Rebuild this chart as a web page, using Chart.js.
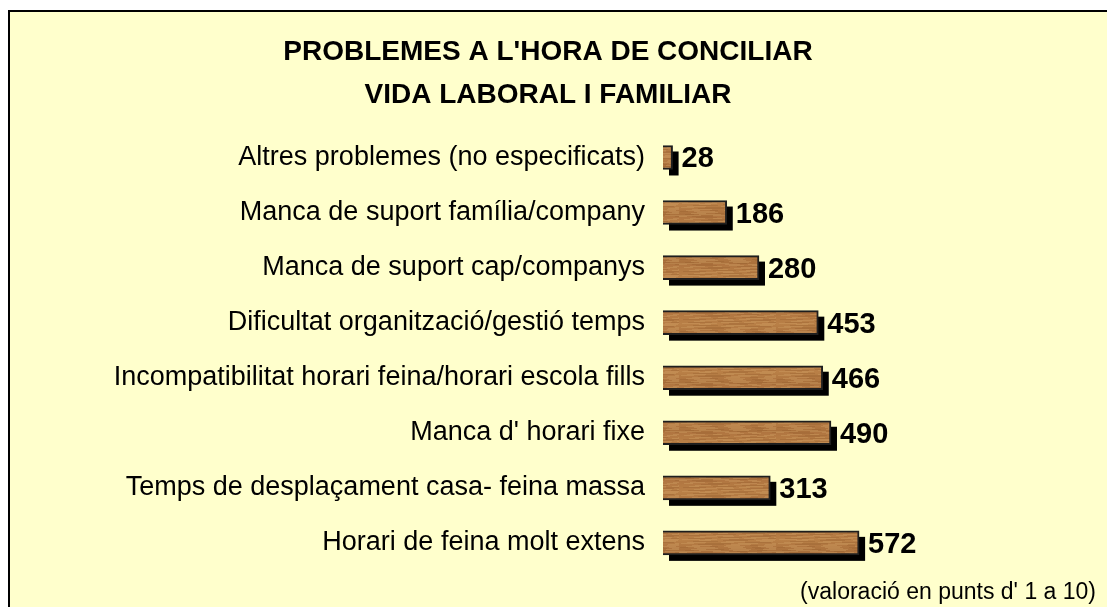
<!DOCTYPE html>
<html>
<head>
<meta charset="utf-8">
<script src="https://cdn.jsdelivr.net/npm/chart.js@4/dist/chart.umd.min.js"></script>
<style>
  html, body { margin: 0; padding: 0; background: #fff; }
  #wrap { width: 1107px; height: 607px; }
</style>
</head>
<body>
<div id="wrap"><canvas id="barChart" width="1107" height="607"></canvas></div>
<script>
const categories = [
  'Altres problemes (no especificats)',
  'Manca de suport família/company',
  'Manca de suport cap/companys',
  'Dificultat organització/gestió temps',
  'Incompatibilitat horari feina/horari escola fills',
  "Manca d' horari fixe",
  'Temps de desplaçament casa- feina massa',
  'Horari de feina molt extens'
];
const values = [28, 186, 280, 453, 466, 490, 313, 572];
const titleLines = ["PROBLEMES A L'HORA DE CONCILIAR", 'VIDA LABORAL I FAMILIAR'];
const note = "(valoració en punts d' 1 a 10)";

const FONT = 'Arial, "Liberation Sans", sans-serif';

// wood-like fill for the bars: soft horizontal grain streaks
function woodPattern(ctx) {
  const w = 97, h = 24;
  const c = document.createElement('canvas');
  c.width = w; c.height = h;
  const p = c.getContext('2d');
  const g = p.createLinearGradient(0, 0, 0, h);
  g.addColorStop(0, '#b07540');
  g.addColorStop(0.5, '#b98047');
  g.addColorStop(1, '#a96f3b');
  p.fillStyle = g;
  p.fillRect(0, 0, w, h);
  const tones = ['rgba(205,155,95,0.45)', 'rgba(150,95,45,0.35)', 'rgba(215,170,110,0.3)'];
  for (let y = 0; y < h; y++) {
    let x = (y * 17) % 23;
    let k = y;
    while (x < w) {
      const len = 8 + ((k * 13) % 19);
      p.fillStyle = tones[k % tones.length];
      p.fillRect(x, y, len, 1);
      x += len + 5 + ((k * 7) % 11);
      k++;
    }
  }
  return ctx.createPattern(c, 'repeat');
}

const framePlugin = {
  id: 'frame',
  beforeDraw(chart) {
    const ctx = chart.ctx;
    ctx.save();
    ctx.fillStyle = '#ffffff';
    ctx.fillRect(0, 0, chart.width, chart.height);
    ctx.fillStyle = '#ffffcc';
    ctx.fillRect(8, 10, chart.width, chart.height);
    ctx.strokeStyle = '#000';
    ctx.lineWidth = 2;
    ctx.beginPath();
    ctx.moveTo(9, chart.height);
    ctx.lineTo(9, 11);
    ctx.lineTo(chart.width, 11);
    ctx.stroke();
    ctx.restore();
  }
};

const shadowPlugin = {
  id: 'barShadow',
  beforeDatasetsDraw(chart) {
    const ctx = chart.ctx;
    ctx.save();
    ctx.fillStyle = '#000';
    chart.getDatasetMeta(0).data.forEach(bar => {
      const h = bar.height;
      ctx.fillRect(bar.base + 6, bar.y - h / 2 + 6, bar.x - bar.base, h);
    });
    ctx.restore();
  },
  afterDatasetsDraw(chart) {
    const ctx = chart.ctx;
    ctx.save();
    ctx.fillStyle = '#000';
    ctx.font = 'bold 29px ' + FONT;
    ctx.textBaseline = 'middle';
    chart.getDatasetMeta(0).data.forEach((bar, i) => {
      ctx.fillText(values[i], bar.x + 9, bar.y + 2);
    });
    ctx.restore();
  }
};

const ctx = document.getElementById('barChart').getContext('2d');
new Chart(ctx, {
  type: 'bar',
  data: {
    labels: categories,
    datasets: [{
      data: values,
      backgroundColor: woodPattern(ctx),
      borderColor: '#1e1e1e',
      borderWidth: 2,
      barThickness: 24
    }]
  },
  options: {
    indexAxis: 'y',
    responsive: false,
    animation: false,
    layout: { padding: { top: 31, bottom: 1, right: 11, left: 0 } },
    plugins: {
      legend: { display: false },
      tooltip: { enabled: false },
      title: {
        display: true,
        text: titleLines,
        color: '#000',
        font: { family: FONT, size: 28, weight: 'bold', lineHeight: 1.535 },
        padding: { top: 0, bottom: 13 }
      },
      subtitle: {
        display: true,
        position: 'bottom',
        align: 'end',
        text: note,
        color: '#000',
        font: { family: FONT, size: 23 },
        padding: { top: 8, bottom: 0 }
      }
    },
    scales: {
      x: {
        display: false,
        min: 0,
        max: 1263
      },
      y: {
        afterFit(scale) { scale.width = 663; },
        grid: { display: false, drawTicks: false },
        border: { display: false },
        ticks: {
          color: '#000',
          padding: 18,
          font: { family: FONT, size: 27 }
        }
      }
    }
  },
  plugins: [framePlugin, shadowPlugin]
});
</script>
</body>
</html>
